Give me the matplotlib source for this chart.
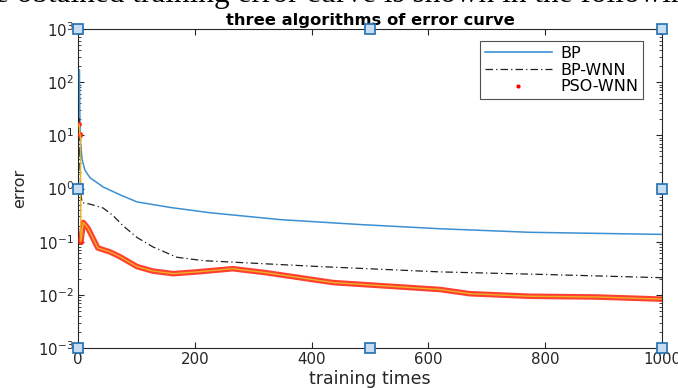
import matplotlib
matplotlib.use("Agg")
import matplotlib.pyplot as plt
from matplotlib.lines import Line2D

plt.rcParams['font.family'] = ['DejaVu Sans']
plt.rcParams['mathtext.fontset'] = 'dejavusans'

# ---- data ----
bp_x = [2.5, 3, 4, 7, 12, 20.5, 43, 72, 101, 158, 226, 346, 483, 620, 774, 1000]
bp_y = [170, 30, 8, 3.5, 2.2, 1.6, 1.07, 0.76, 0.56, 0.44, 0.35, 0.26, 0.21, 0.175, 0.15, 0.137]

bpw_x = [2, 3, 5, 7, 20, 43, 60, 77, 101, 128, 169, 214, 414, 620, 808, 1000]
bpw_y = [21, 3, 0.8, 0.54, 0.51, 0.43, 0.31, 0.2, 0.12, 0.08, 0.051, 0.044, 0.034, 0.027, 0.024, 0.021]

pso_x = [2, 3, 4, 5, 9, 17, 34, 55, 72, 101, 128, 163, 204, 265, 323, 437, 620, 671, 774, 889, 1000]
pso_y = [16, 10.7, 10, 0.1, 0.23, 0.18, 0.076, 0.064, 0.052, 0.034, 0.028, 0.025, 0.027, 0.031, 0.026,
         0.017, 0.0126, 0.0105, 0.0094, 0.0091, 0.0083]

handle_x = [0, 500, 1000, 0, 1000, 0, 500, 1000]
handle_y = [1e3, 1e3, 1e3, 1, 1, 1e-3, 1e-3, 1e-3]

xticks = [0, 200, 400, 600, 800, 1000]
yticks = [1e-3, 1e-2, 1e-1, 1, 1e1, 1e2, 1e3]

fig = plt.figure(figsize=(6.78, 3.88), dpi=100)
fig.text(-0.008, 1 - 2 / 388, "e obtained training error curve is shown in the following",
         family='Liberation Serif', fontsize=22.5, va='baseline', ha='left')

ax = fig.add_axes([78 / 678, 1 - 348 / 388, (662 - 78) / 678, (348 - 29) / 388])
ax.set_yscale('log')

ax.plot(bp_x, bp_y, color='#3B8FD3', lw=1.1, label='BP', zorder=3)
ax.plot(bpw_x, bpw_y, color='#202020', lw=0.9, ls=(0, (6, 2.5, 1, 2.5)), label='BP-WNN', zorder=3)
# PSO-WNN: red dots (drawn as a thick red trace after the drop) with a yellow line on top
ax.plot(pso_x[3:], pso_y[3:], color='#FF2A1A', lw=4.0, solid_capstyle='round', alpha=0.9, zorder=4)
ax.plot(pso_x[:4], pso_y[:4], color='#FF2A1A', ls='none', marker='.', ms=5, zorder=4)
ax.plot(pso_x, pso_y, color='#EDB120', lw=1.0, zorder=5)

ax.plot(handle_x, handle_y, ls='none', marker='s', ms=6.5, mfc='#C9DDF0', mec='#1F6FB5',
        mew=1.2, clip_on=False, zorder=10)

ax.set_xlim(0, 1000)
ax.set_ylim(1e-3, 1e3)
ax.set_xticks(xticks)
ax.set_yticks(yticks)
ax.tick_params(which='both', direction='in', top=True, right=True, colors='#262626',
               labelsize=10.8, labelcolor='#262626')
ax.tick_params(which='major', length=4, pad=3)
ax.tick_params(which='minor', length=2.5)
for s in ax.spines.values():
    s.set_color('#262626')
    s.set_linewidth(0.8)

ax.set_title('three algorithms of error curve', fontsize=11.8, fontweight='bold', pad=3)
ax.set_xlabel('training times', fontsize=12.5, labelpad=2, color='#262626')
ax.set_ylabel('error', fontsize=11.5, labelpad=8, color='#262626')

handles = [Line2D([], [], color='#3B8FD3', lw=1.2),
           Line2D([], [], color='#202020', lw=0.9, ls=(0, (6, 2.5, 1, 2.5))),
           Line2D([], [], color='red', ls='none', marker='.', ms=4)]
leg = ax.legend(handles, ['BP', 'BP-WNN', 'PSO-WNN'], loc='upper right',
                bbox_to_anchor=(0.967, 0.962), borderaxespad=0, fontsize=11.5, frameon=True,
                fancybox=False, edgecolor='#262626', handlelength=4.2, borderpad=0.3,
                labelspacing=0.1, handletextpad=0.5)
leg.get_frame().set_linewidth(0.8)

fig.savefig('out.png', dpi=100)
